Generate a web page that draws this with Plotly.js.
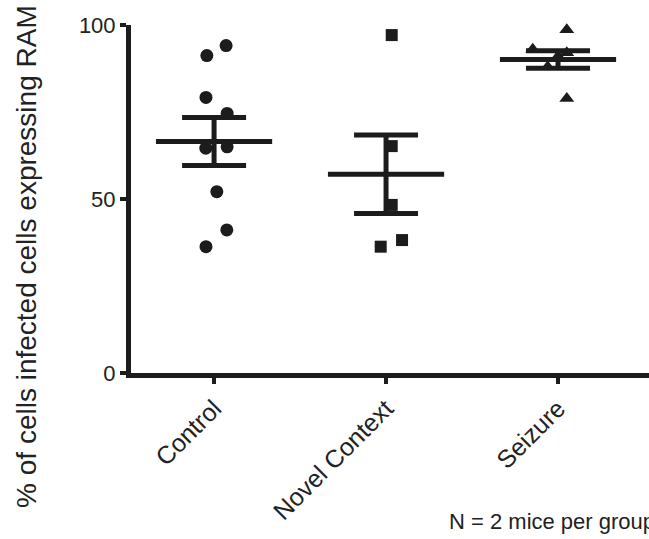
<!DOCTYPE html>
<html>
<head>
<meta charset="utf-8">
<script src="https://cdn.plot.ly/plotly-3.0.1.min.js"></script>
<style>html,body{margin:0;padding:0;background:#fff;}#chart{width:649px;height:539px;}</style>
</head>
<body>
<div id="chart"></div>
<script>
// Categories
var categories = ["Control", "Novel Context", "Seizure"];
var groupIndex = [0, 1, 2];

// Individual values (percent), with horizontal scatter offsets
var controlValues = [94.1, 91.2, 79.2, 74.6, 64.6, 65.0, 52.1, 41.1, 36.3];
var controlJitter = [0.070, -0.042, -0.047, 0.076, -0.048, 0.076, 0.016, 0.074, -0.047];

var novelValues = [97.1, 65.2, 48.3, 38.2, 36.3];
var novelJitter = [0.033, 0.033, 0.033, 0.093, -0.031];

var seizureValues = [98.6, 93.0, 92.0, 91.0, 88.0, 78.9];
var seizureJitter = [0.051, -0.147, 0.051, 0.0, -0.06, 0.051];

// Group means and SEM
var means = [66.5, 57.1, 90.1];
var sems = [6.9, 11.3, 2.5];

var yTicks = [0, 50, 100];

function xs(idx, jit) { return jit.map(function (j) { return idx + j; }); }

var ink = "#1c1c1c";
var font = "Arial, 'Liberation Sans', Helvetica, sans-serif";

var traces = [
  { type: "scatter", mode: "markers", x: xs(groupIndex[0], controlJitter), y: controlValues,
    marker: { symbol: "circle", size: 13, color: ink }, cliponaxis: false, hoverinfo: "y" },
  { type: "scatter", mode: "markers", x: xs(groupIndex[1], novelJitter), y: novelValues,
    marker: { symbol: "square", size: 12, color: ink }, cliponaxis: false, hoverinfo: "y" },
  { type: "scatter", mode: "markers", x: xs(groupIndex[2], seizureJitter), y: seizureValues,
    marker: { symbol: "triangle-up", size: 13, color: ink }, cliponaxis: false, hoverinfo: "y" },
  { type: "scatter", mode: "markers", x: groupIndex, y: means,
    marker: { symbol: "line-ew", size: 83, color: ink, line: { color: ink, width: 5 } },
    error_y: { type: "data", array: sems, visible: true, color: ink, thickness: 5, width: 32 },
    cliponaxis: false, hoverinfo: "y" }
];

var layout = {
  width: 649, height: 539,
  margin: { l: 131, r: 0, t: 25, b: 166 },
  paper_bgcolor: "#fff", plot_bgcolor: "#fff",
  showlegend: false,
  font: { family: font, color: "#222" },
  xaxis: {
    range: [-0.483, 2.529],
    tickvals: groupIndex, ticktext: categories,
    tickangle: -45,
    tickfont: { size: 25, family: font, color: "#222" },
    showline: true, linecolor: ink, linewidth: 5,
    ticks: "outside", ticklen: 6, tickwidth: 4, tickcolor: ink,
    showgrid: false, zeroline: false, fixedrange: true
  },
  yaxis: {
    range: [0, 100],
    tickvals: yTicks,
    tickfont: { size: 22, family: font, color: "#222" },
    showline: true, linecolor: ink, linewidth: 5,
    ticks: "outside", ticklen: 6, tickwidth: 4, tickcolor: ink,
    showgrid: false, zeroline: false, fixedrange: true
  },
  annotations: [
    { text: "% of cells infected cells expressing RAM", xref: "paper", yref: "paper",
      x: -0.203, y: 0.336, xanchor: "center", yanchor: "middle", textangle: -90,
      showarrow: false, font: { size: 28, family: font, color: "#222" } },
    { text: "N = 2 mice per group", xref: "paper", yref: "paper",
      x: 0.61, y: -0.468, xanchor: "left", yanchor: "bottom",
      showarrow: false, font: { size: 22, family: font, color: "#222" } }
  ]
};

Plotly.newPlot("chart", traces, layout, { displayModeBar: false, staticPlot: true });
</script>
</body>
</html>
